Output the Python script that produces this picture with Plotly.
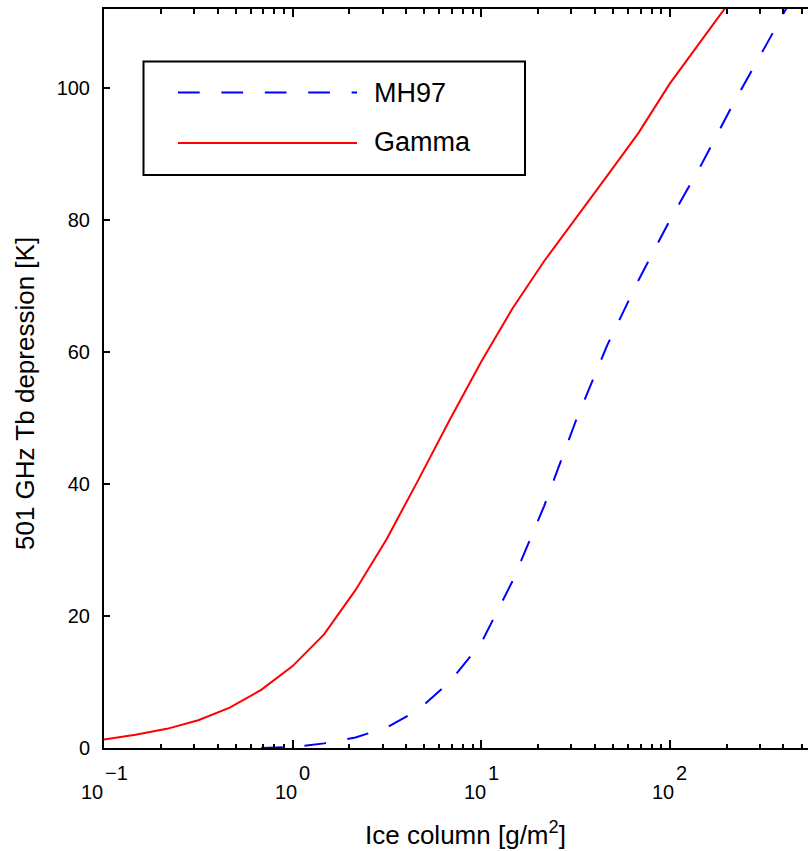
import math
import plotly.graph_objects as go

# ---------------- data ----------------
# ice column [g/m^2], sampled at 6 points per decade
ice_column_gamma = [0.1, 0.1468, 0.2154, 0.3162, 0.4642, 0.6813, 1.0, 1.468, 2.154,
                    3.162, 4.642, 6.813, 10.0, 14.68, 21.54, 31.62, 46.42, 68.13,
                    100.0, 146.8, 215.4]
tb_gamma = [1.3, 2.0, 2.9, 4.2, 6.1, 8.8, 12.4, 17.2, 23.9,
            31.7, 40.6, 49.7, 58.5, 66.6, 73.7, 80.1, 86.6, 93.1,
            100.6, 107.1, 113.6]

ice_column_mh97 = [0.6813, 1.0, 1.468, 2.154, 3.162, 4.642, 6.813, 10.0, 14.68,
                   21.54, 31.62, 46.42, 68.13, 100.0, 146.8, 215.4, 316.2, 464.2]
tb_mh97 = [0.0, 0.15, 0.7, 1.6, 3.1, 5.8, 10.0, 15.9, 25.3,
           36.6, 49.4, 60.9, 70.8, 79.9, 88.3, 97.4, 105.9, 114.5]

series_names = ["MH97", "Gamma"]
x_major_ticks = [0.1, 1, 10, 100]
x_tick_exponents = ["\u22121", "0", "1", "2"]
x_minor_ticks = [m * d for d in [0.1, 1, 10, 100] for m in range(2, 10)]
y_ticks = [0, 20, 40, 60, 80, 100]

x_title = "Ice column [g/m<sup>2</sup>]"
y_title = "501 GHz Tb depression [K]"

# ---------------- layout geometry ----------------
W, H = 808, 851
L, R, T, B = 104, 0, 9, 103
PW, PH = W - L - R, H - T - B
FONT = "Liberation Sans, Arial, Helvetica, sans-serif"
DASH = "21.7px,21.7px"


def px_x(p):
    return (p - L) / PW


def px_y(p):
    return (H - B - p) / PH


fig = go.Figure()
fig.add_trace(go.Scatter(x=ice_column_mh97, y=tb_mh97, mode="lines", name=series_names[0],
                         line=dict(color="#0000ff", width=2, dash=DASH), showlegend=False))
fig.add_trace(go.Scatter(x=ice_column_gamma, y=tb_gamma, mode="lines", name=series_names[1],
                         line=dict(color="#ff0000", width=2), showlegend=False))

annotations = []
# x tick labels in MATLAB style: "10" with a full-size raised exponent
for v, e in zip(x_major_ticks, x_tick_exponents):
    wexp = 22.8 if e.startswith("\u2212") else 11.1 * len(e)
    shift = 11.1 - wexp / 2
    lx = math.log10(v)
    annotations.append(dict(x=lx, xref="x", y=0, yref="paper", text="10", showarrow=False,
                            xanchor="right", yanchor="top", xshift=shift, yshift=-32,
                            borderpad=0, font=dict(family=FONT, size=20, color="black")))
    annotations.append(dict(x=lx, xref="x", y=0, yref="paper", text=e, showarrow=False,
                            xanchor="left", yanchor="top", xshift=shift, yshift=-12.5,
                            borderpad=0, font=dict(family=FONT, size=20, color="black")))

# axis titles
annotations.append(dict(x=px_x(465), xref="paper", y=0, yref="paper", text=x_title,
                        showarrow=False, xanchor="center", yanchor="top", yshift=-67,
                        font=dict(family=FONT, size=26, color="black")))
annotations.append(dict(x=0, xref="paper", y=px_y(394), yref="paper", text=y_title,
                        showarrow=False, textangle=-90, xanchor="right", yanchor="middle",
                        xshift=-62, font=dict(family=FONT, size=26, color="black")))

# legend (MATLAB style box with long sample lines)
shapes = [
    dict(type="rect", xref="paper", yref="paper", x0=px_x(143.5), x1=px_x(525),
         y0=px_y(175), y1=px_y(61.5), line=dict(color="black", width=2), fillcolor="white",
         layer="above"),
    dict(type="line", xref="paper", yref="paper", x0=px_x(178), x1=px_x(357),
         y0=px_y(92.5), y1=px_y(92.5), line=dict(color="#0000ff", width=2, dash=DASH)),
    dict(type="line", xref="paper", yref="paper", x0=px_x(178), x1=px_x(357),
         y0=px_y(143), y1=px_y(143), line=dict(color="#ff0000", width=2)),
]
annotations.append(dict(x=px_x(373), xref="paper", y=px_y(93), yref="paper", text=series_names[0],
                        showarrow=False, xanchor="left", yanchor="middle", borderpad=0,
                        font=dict(family=FONT, size=27, color="black")))
annotations.append(dict(x=px_x(373), xref="paper", y=px_y(142), yref="paper", text=series_names[1],
                        showarrow=False, xanchor="left", yanchor="middle", borderpad=0,
                        font=dict(family=FONT, size=27, color="black")))

fig.update_layout(
    width=W, height=H,
    margin=dict(l=L, r=R, t=T, b=B, pad=0),
    paper_bgcolor="white", plot_bgcolor="white",
    font=dict(family=FONT, size=20, color="black"),
    showlegend=False,
    shapes=shapes,
    annotations=annotations,
    xaxis=dict(type="log", range=[-1, -1 + PW / 188.6], showline=True, linecolor="black",
               linewidth=2, mirror="ticks", ticks="inside", ticklen=8, tickwidth=1.5,
               tickcolor="black", tickmode="array", tickvals=x_major_ticks,
               showticklabels=False, showgrid=False, zeroline=False,
               minor=dict(tickmode="array", tickvals=x_minor_ticks, ticks="inside",
                          ticklen=4.5, tickwidth=1.5, tickcolor="black", showgrid=False)),
    yaxis=dict(range=[0, 111.9], showline=True, linecolor="black", linewidth=2,
               ticks="inside", ticklen=6, tickwidth=1.5, tickcolor="black",
               tickmode="array", tickvals=y_ticks, ticklabelstandoff=8,
               tickfont=dict(family=FONT, size=20, color="black"),
               showgrid=False, zeroline=False),
)

fig.write_html("out.html", config={"displayModeBar": False},
               post_script="document.body.style.margin='0px';document.body.style.overflow='hidden';")
